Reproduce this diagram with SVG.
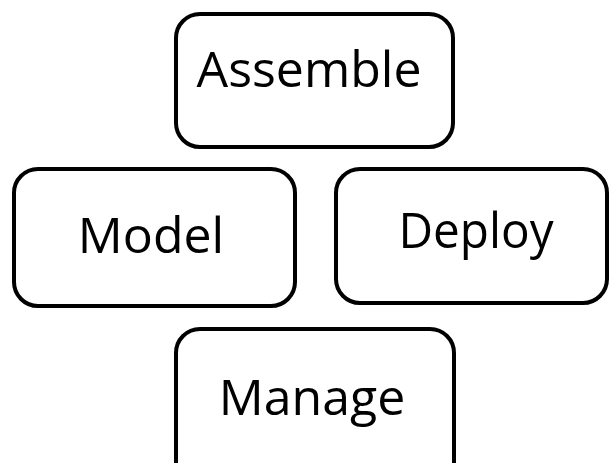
<svg xmlns="http://www.w3.org/2000/svg" width="610" height="463" viewBox="0 0 610 463">
  <style>
    .box { fill: #fff; stroke: #000; stroke-width: 4; }
    .label { font-family: "Open Sans", "Liberation Sans", sans-serif; font-size: 50px; fill: #000; text-anchor: middle; }
  </style>
  <rect width="610" height="463" fill="#fff"/>
  <g id="connectors"></g>
  <g id="assemble">
    <rect class="box" x="176" y="14" width="277" height="133" rx="24"/>
    <text class="label" x="309" y="87">Assemble</text>
  </g>
  <g id="model">
    <rect class="box" x="14" y="169" width="281" height="137" rx="24"/>
    <text class="label" x="151" y="253">Model</text>
  </g>
  <g id="deploy">
    <rect class="box" x="336" y="169" width="271" height="134" rx="24"/>
    <text class="label" x="476" y="248" textLength="155" lengthAdjust="spacingAndGlyphs">Deploy</text>
  </g>
  <g id="manage">
    <rect class="box" x="176" y="329" width="278" height="160" rx="24"/>
    <text class="label" x="312" y="415">Manage</text>
  </g>
</svg>
